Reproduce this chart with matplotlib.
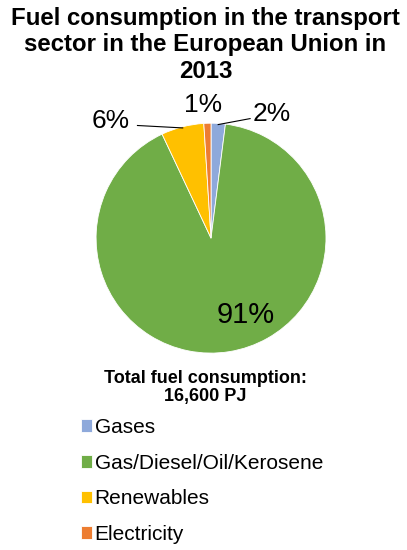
import matplotlib.pyplot as plt
import numpy as np

plt.rcParams['font.family'] = ['Liberation Sans', 'DejaVu Sans']

labels = ["Gases", "Gas/Diesel/Oil/Kerosene", "Renewables", "Electricity"]
shares = [2, 91, 6, 1]
pct_text = ["2%", "91%", "6%", "1%"]
colors = ["#8EA9DB", "#70AD47", "#FFC000", "#ED7D31"]

fig = plt.figure(figsize=(4.07, 5.5), dpi=100)

fig.text(0.505, 0.988, "Fuel consumption in the transport\nsector in the European Union in\n2013",
         ha="center", va="top", fontsize=17.3, fontweight="bold", linespacing=1.2)

ax = fig.add_axes([0.236, 0.358, 0.565, 0.418])
wedges, _ = ax.pie(shares, colors=colors, startangle=90, counterclock=False,
                   wedgeprops=dict(linewidth=0.6, edgecolor="white"))
ax.set_xlim(-1, 1)
ax.set_ylim(-1, 1)
ax.set_aspect("equal")

# label positions (data units, pie radius = 1)
label_pos = [(0.53, 1.08), (0.30, -0.67), (-0.87, 1.02), (-0.07, 1.16)]
label_size = [19, 21, 19, 19]
leader_start = [(0.34, 1.04), None, (-0.64, 0.98), None]
for w, txt, pos, fs, st in zip(wedges, pct_text, label_pos, label_size, leader_start):
    mid = np.deg2rad((w.theta1 + w.theta2) / 2)
    tip = (np.cos(mid) * 0.99, np.sin(mid) * 0.99)
    if st is not None:
        ax.plot([st[0], tip[0]], [st[1], tip[1]], color="black",
                linewidth=0.8, clip_on=False)
    ax.text(pos[0], pos[1], txt, ha="center", va="center", fontsize=fs, clip_on=False)

fig.text(0.505, 0.295, "Total fuel consumption:\n16,600 PJ", ha="center", va="center",
         fontsize=13, fontweight="bold", linespacing=1.1)

fig.legend(wedges, labels, loc="upper left", bbox_to_anchor=(0.199, 0.240),
           frameon=False, fontsize=15, handlelength=0.55, handleheight=0.55,
           handletextpad=0.1, labelspacing=0.8, borderaxespad=0, borderpad=0)

fig.savefig("out.png", dpi=100)
